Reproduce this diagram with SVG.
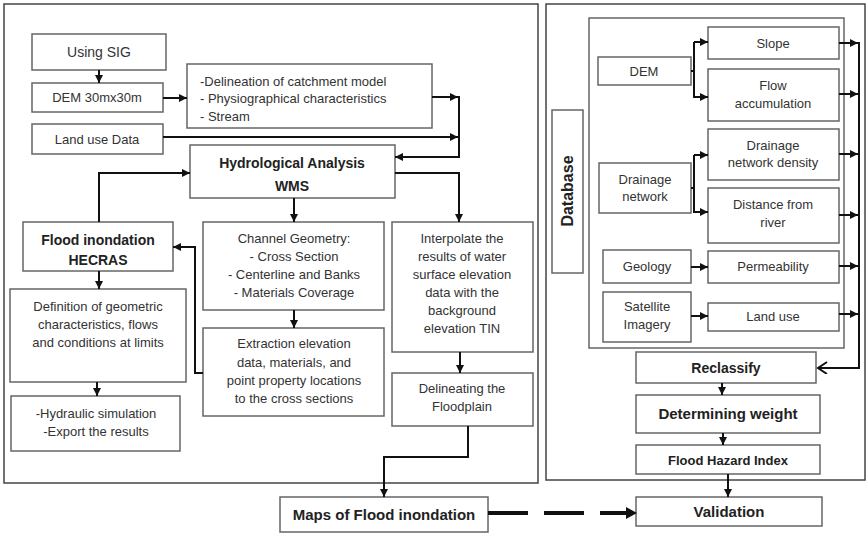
<svg xmlns="http://www.w3.org/2000/svg" width="868" height="536" viewBox="0 0 868 536">
<defs>
<marker id="ah" markerUnits="userSpaceOnUse" markerWidth="9" markerHeight="9" refX="8" refY="4" orient="auto"><path d="M0,0 L8,4 L0,8 z" fill="#111"/></marker>
<marker id="chev" markerUnits="userSpaceOnUse" markerWidth="12" markerHeight="14" refX="10" refY="6" orient="auto"><path d="M1,0 L10,6 L1,12" fill="none" stroke="#111" stroke-width="2"/></marker>
<style>
.bx{fill:#fff;stroke:#666;stroke-width:1.5}
.pn{fill:none;stroke:#444;stroke-width:1.5}
.t{font-family:"Liberation Sans",Arial,sans-serif;font-size:13px;fill:#333;text-anchor:middle}
.tl{font-family:"Liberation Sans",Arial,sans-serif;font-size:13px;fill:#333}
.b{font-family:"Liberation Sans",Arial,sans-serif;font-size:13px;font-weight:bold;fill:#222;text-anchor:middle}
.c{fill:none;stroke:#111;stroke-width:2}
.ca{fill:none;stroke:#111;stroke-width:2;marker-end:url(#ah)}
</style>
</defs>
<rect width="868" height="536" fill="#fff"/>
<g id="panels">
<rect class="pn" x="4" y="4" width="534" height="479"/>
<rect class="pn" x="546" y="4" width="319" height="476"/>
</g>
<g id="n-using-sig"><rect class="bx" x="32" y="34" width="134" height="36"/><text class="t" x="99" y="57" style="font-size:14px">Using SIG</text></g>
<g id="n-dem30"><rect class="bx" x="32" y="83" width="131" height="29"/><text class="t" x="97" y="102">DEM 30mx30m</text></g>
<g id="n-delin"><rect class="bx" x="187" y="64" width="245" height="64"/><text class="tl" x="200" y="86">-Delineation of catchment model</text><text class="tl" x="200" y="103">- Physiographical characteristics</text><text class="tl" x="200" y="121">- Stream</text></g>
<g id="n-landuse-data"><rect class="bx" x="32" y="124" width="131" height="30"/><text class="t" x="97" y="144">Land use Data</text></g>
<g id="n-hydro"><rect class="bx" x="190" y="145" width="205" height="53"/><text class="b" x="292" y="168" style="font-size:14px">Hydrological Analysis</text><text class="b" x="292" y="191" style="font-size:14px">WMS</text></g>
<g id="n-flood-hecras"><rect class="bx" x="23" y="222" width="150" height="49"/><text class="b" x="98" y="245" style="font-size:14px">Flood inondation</text><text class="b" x="98" y="265" style="font-size:14px">HECRAS</text></g>
<g id="n-channel"><rect class="bx" x="203" y="222" width="181" height="88"/><text class="t" x="294" y="243">Channel Geometry:</text><text class="t" x="294" y="261">- Cross Section</text><text class="t" x="294" y="279">- Centerline and Banks</text><text class="t" x="294" y="297">- Materials Coverage</text></g>
<g id="n-interp"><rect class="bx" x="392" y="222" width="141" height="130"/><text class="t" x="462" y="243">Interpolate the</text><text class="t" x="462" y="261">results of water</text><text class="t" x="462" y="279">surface elevation</text><text class="t" x="462" y="297">data with the</text><text class="t" x="462" y="315">background</text><text class="t" x="462" y="333">elevation TIN</text></g>
<g id="n-definition"><rect class="bx" x="10" y="289" width="176" height="93"/><text class="t" x="98" y="311">Definition of geometric</text><text class="t" x="98" y="329">characteristics, flows</text><text class="t" x="98" y="347">and conditions  at limits</text></g>
<g id="n-extraction"><rect class="bx" x="203" y="328" width="181" height="88"/><text class="t" x="294" y="348">Extraction elevation</text><text class="t" x="294" y="367">data, materials, and</text><text class="t" x="294" y="385">point property locations</text><text class="t" x="294" y="403">to the cross sections</text></g>
<g id="n-delfloodplain"><rect class="bx" x="392" y="373" width="141" height="53"/><text class="t" x="462" y="393">Delineating the</text><text class="t" x="462" y="411">Floodplain</text></g>
<g id="n-hydraulic"><rect class="bx" x="11" y="396" width="169" height="55"/><text class="t" x="96" y="418">-Hydraulic simulation</text><text class="t" x="96" y="436">-Export the results</text></g>
<g id="n-maps"><rect class="bx" x="280" y="497" width="208" height="35"/><text class="b" x="384" y="520" style="font-size:15px">Maps of Flood inondation</text></g>
<g id="n-database"><rect class="bx" x="552" y="110" width="31" height="163"/><text class="b" x="0" y="0" transform="translate(573,191) rotate(-90)" style="font-size:16px">Database</text></g>
<g id="n-sources"><rect class="bx" x="589" y="18" width="255" height="330"/></g>
<g id="n-dem"><rect class="bx" x="598" y="57" width="93" height="28"/><text class="t" x="644" y="76">DEM</text></g>
<g id="n-slope"><rect class="bx" x="708" y="27" width="131" height="32"/><text class="t" x="773" y="48">Slope</text></g>
<g id="n-flowacc"><rect class="bx" x="708" y="69" width="131" height="52"/><text class="t" x="773" y="90">Flow</text><text class="t" x="773" y="108">accumulation</text></g>
<g id="n-drainage"><rect class="bx" x="599" y="163" width="92" height="50"/><text class="t" x="645" y="184">Drainage</text><text class="t" x="645" y="201">network</text></g>
<g id="n-ddensity"><rect class="bx" x="708" y="129" width="131" height="51"/><text class="t" x="773" y="150">Drainage</text><text class="t" x="773" y="167">network density</text></g>
<g id="n-distance"><rect class="bx" x="708" y="188" width="131" height="55"/><text class="t" x="773" y="209">Distance from</text><text class="t" x="773" y="227">river</text></g>
<g id="n-geology"><rect class="bx" x="603" y="250" width="88" height="33"/><text class="t" x="647" y="271">Geology</text></g>
<g id="n-perm"><rect class="bx" x="708" y="251" width="131" height="32"/><text class="t" x="773" y="271">Permeability</text></g>
<g id="n-satellite"><rect class="bx" x="603" y="292" width="88" height="50"/><text class="t" x="647" y="311">Satellite</text><text class="t" x="647" y="329">Imagery</text></g>
<g id="n-landuse"><rect class="bx" x="708" y="303" width="131" height="28"/><text class="t" x="773" y="321">Land use</text></g>
<g id="n-reclassify"><rect class="bx" x="636" y="352" width="180" height="31"/><text class="b" x="726" y="373" style="font-size:14px">Reclassify</text></g>
<g id="n-weight"><rect class="bx" x="636" y="395" width="184" height="38"/><text class="b" x="728" y="419" style="font-size:15px">Determining weight</text></g>
<g id="n-fhi"><rect class="bx" x="636" y="445" width="184" height="29"/><text class="b" x="728" y="465" style="font-size:13px">Flood Hazard Index</text></g>
<g id="n-validation"><rect class="bx" x="636" y="497" width="186" height="29"/><text class="b" x="729" y="517" style="font-size:15px">Validation</text></g>
<g id="connectors">
<path class="ca" d="M99,70 V83"/>
<path class="ca" d="M163,98 H187"/>
<path class="ca" d="M432,97 H458"/>
<path class="ca" d="M163,137 H458"/>
<path class="ca" d="M459,96 V157 H395"/>
<path class="ca" d="M395,173 H459 V222"/>
<path class="ca" d="M294,198 V222"/>
<path class="ca" d="M294,310 V328"/>
<path class="ca" d="M203,373 H195 V247 H173"/>
<path class="ca" d="M99,222 V173 H190"/>
<path class="ca" d="M99,271 V289"/>
<path class="ca" d="M97,382 V396"/>
<path class="ca" d="M460,352 V373"/>
<path class="ca" d="M468,426 V457 H384 V497"/>
<path fill="none" stroke="#111" stroke-width="4" stroke-dasharray="40 16" d="M488,513 H628"/>
<path d="M626,507 L637,513 L626,519 z" fill="#111"/>
<path class="c" d="M691,71 H694"/>
<path class="ca" d="M694,42 V97 H708"/>
<path class="ca" d="M694,42 H708"/>
<path class="c" d="M691,188 H694"/>
<path class="ca" d="M694,155 V212 H708"/>
<path class="ca" d="M694,155 H708"/>
<path class="ca" d="M691,267 H708"/>
<path class="ca" d="M691,316 H708"/>
<path class="ca" d="M839,43 H858"/>
<path class="ca" d="M839,94 H858"/>
<path class="ca" d="M839,154 H858"/>
<path class="ca" d="M839,215 H858"/>
<path class="ca" d="M839,266 H858"/>
<path class="ca" d="M839,314 H858"/>
<path class="c" d="M859,42 V368 H818" style="marker-end:url(#chev)"/>
<path class="ca" d="M722,383 V395"/>
<path class="ca" d="M723,433 V445"/>
<path class="ca" d="M728,474 V497"/>
</g>
</svg>
